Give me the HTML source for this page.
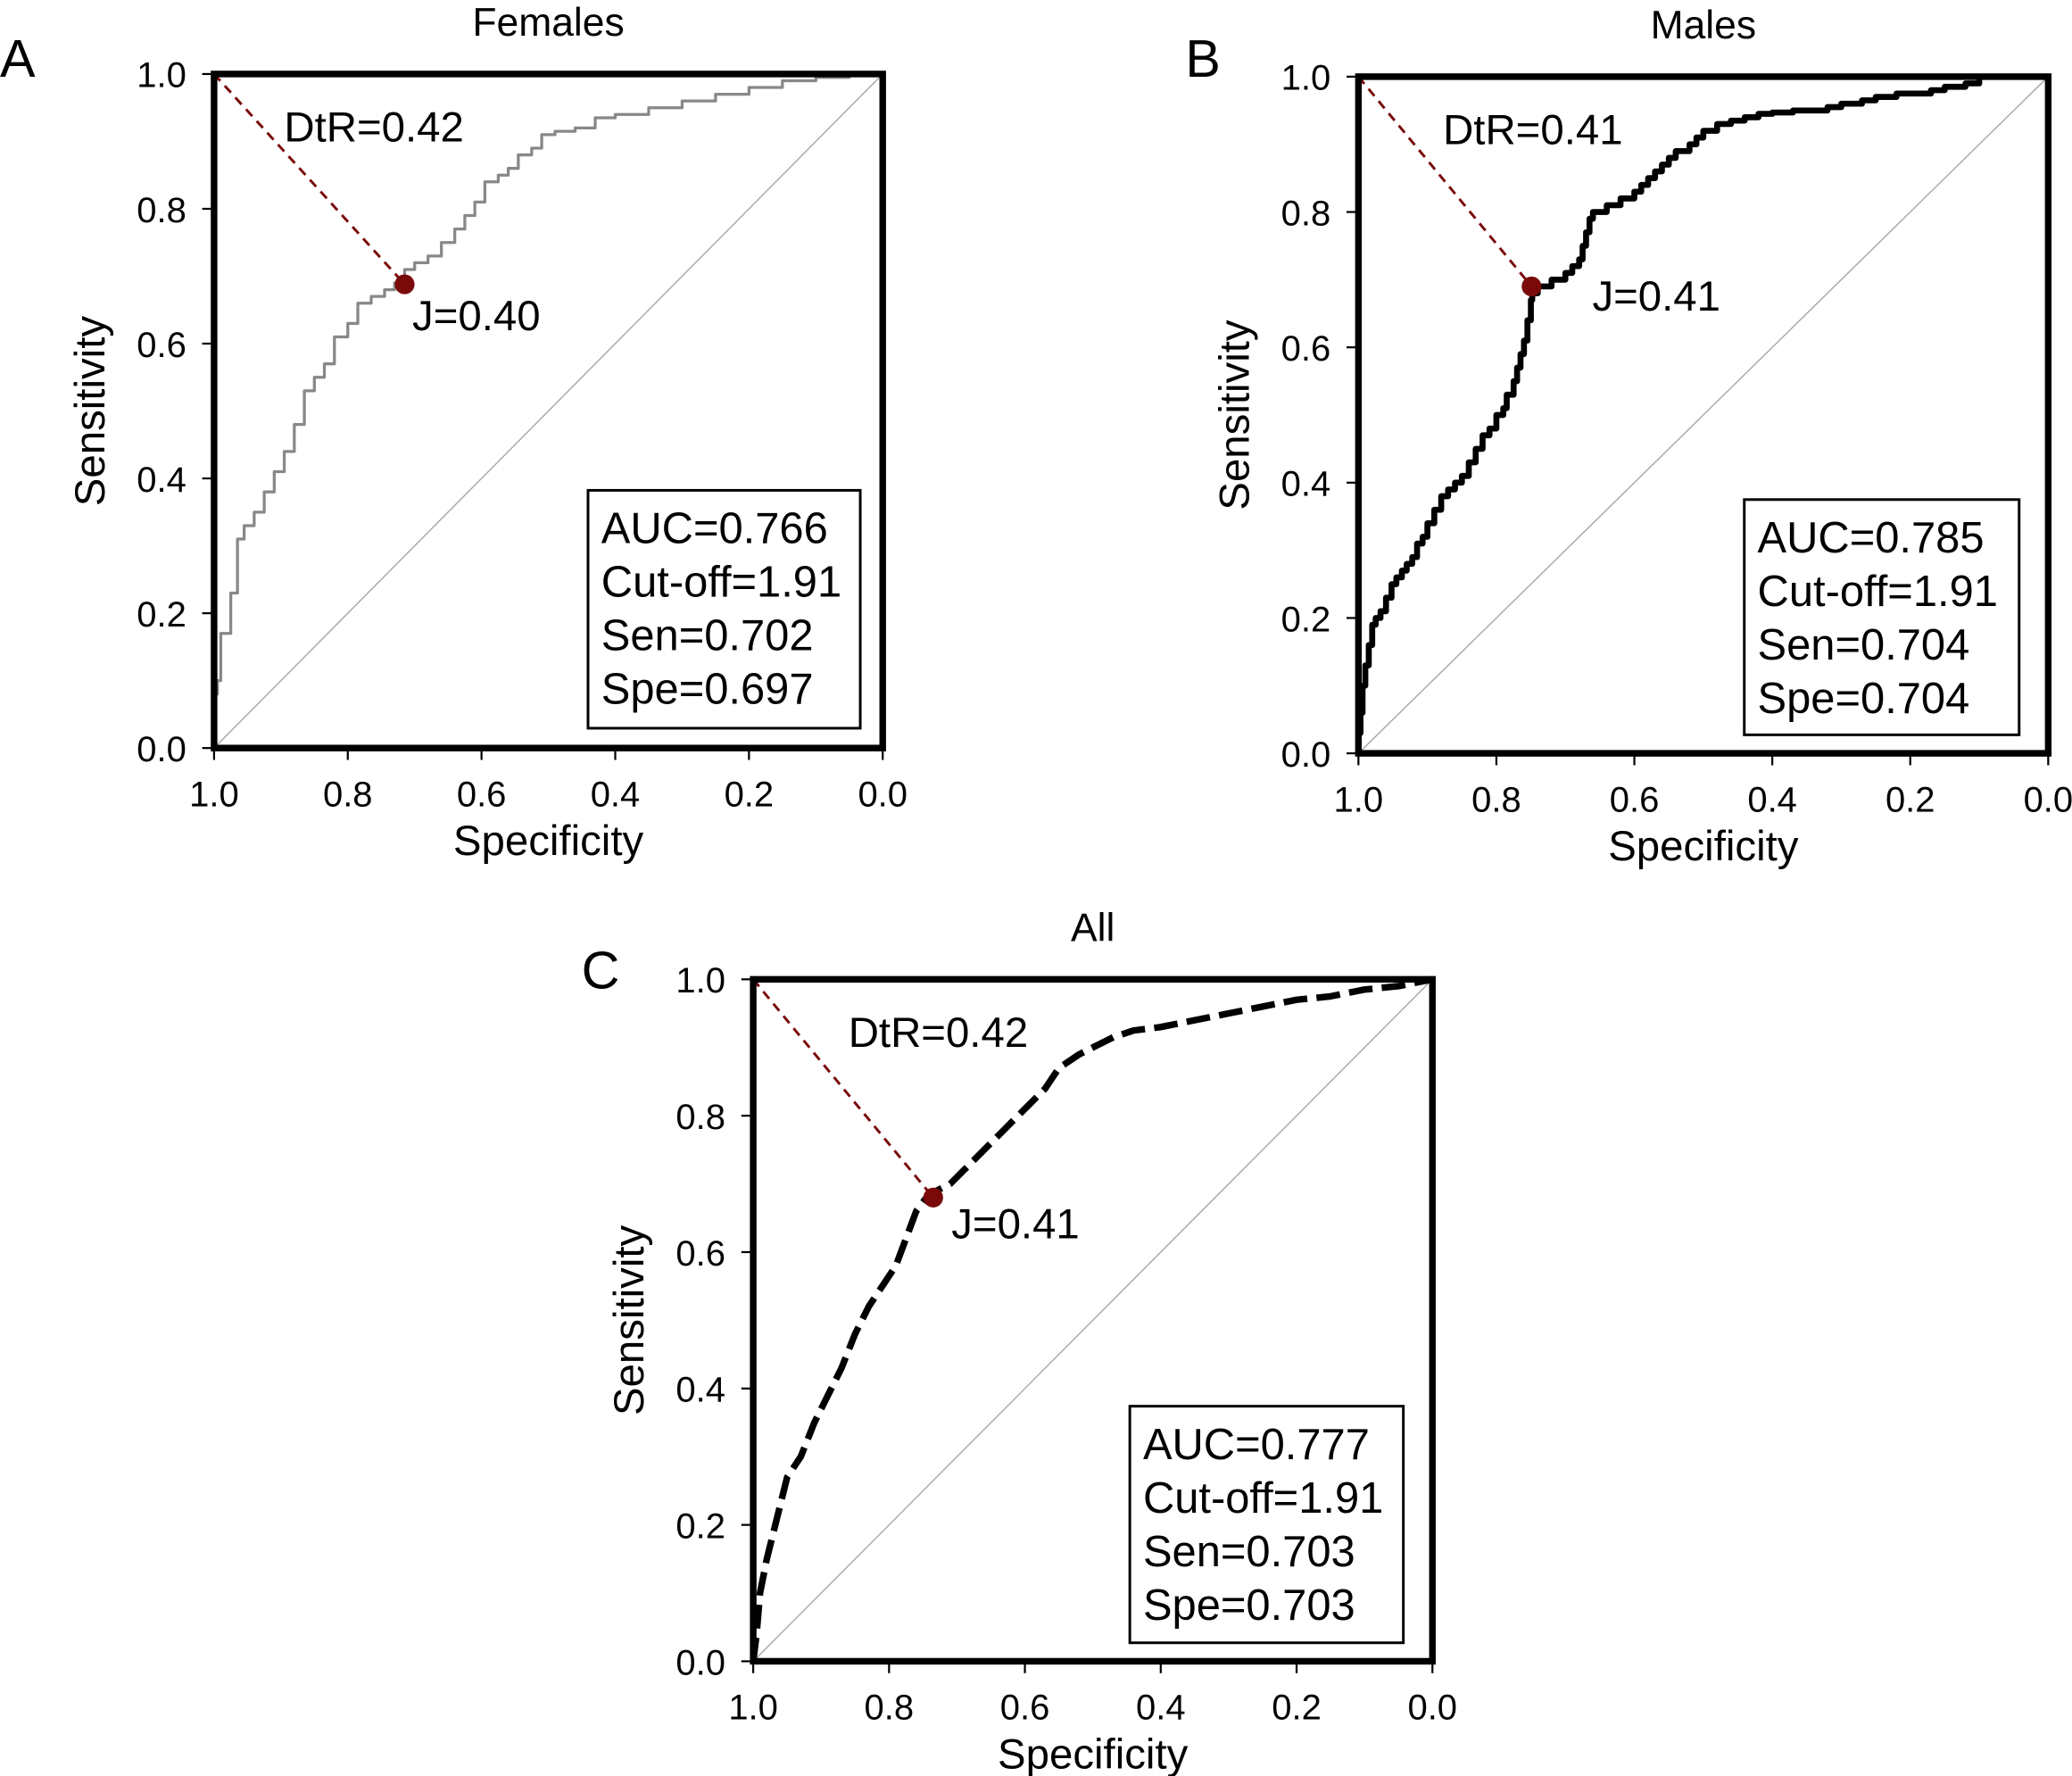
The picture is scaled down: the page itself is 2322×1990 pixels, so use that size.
<!DOCTYPE html>
<html><head><meta charset="utf-8"><style>
html,body{margin:0;padding:0;background:#fff;}
svg{display:block;font-family:"Liberation Sans",Arial,sans-serif;}
</style></head><body>
<svg id="fig" width="2322" height="1990" viewBox="0 0 1568 1343.8" xmlns="http://www.w3.org/2000/svg"></svg>
<script>
const ticks=[1.0,0.8,0.6,0.4,0.2,0.0];
const tickLabels=["1.0","0.8","0.6","0.4","0.2","0.0"];
const femSpec=[1.0,0.995,0.99,0.975,0.965,0.955,0.94,0.925,0.91,0.895,0.88,0.865,0.85,0.835,0.82,0.80,0.785,0.765,0.745,0.73,0.715,0.70,0.68,0.66,0.64,0.625,0.61,0.595,0.575,0.56,0.545,0.525,0.51,0.49,0.46,0.43,0.40,0.35,0.30,0.25,0.20,0.15,0.10,0.05,0.02,0.0];
const femSens=[0.06,0.08,0.10,0.17,0.23,0.31,0.33,0.35,0.38,0.41,0.44,0.48,0.53,0.55,0.57,0.61,0.63,0.66,0.67,0.68,0.69,0.71,0.72,0.73,0.75,0.77,0.79,0.81,0.84,0.85,0.86,0.88,0.89,0.91,0.915,0.92,0.935,0.94,0.95,0.96,0.97,0.98,0.99,0.995,1.0,1.0];
const maleSpec=[1.0,0.997,0.994,0.99,0.985,0.98,0.975,0.968,0.96,0.952,0.945,0.937,0.93,0.922,0.915,0.907,0.9,0.89,0.88,0.87,0.86,0.85,0.84,0.83,0.82,0.81,0.80,0.79,0.785,0.775,0.77,0.765,0.76,0.755,0.75,0.748,0.74,0.73,0.72,0.71,0.70,0.69,0.68,0.675,0.67,0.665,0.66,0.65,0.64,0.63,0.62,0.61,0.60,0.59,0.58,0.57,0.56,0.55,0.54,0.53,0.52,0.51,0.50,0.48,0.46,0.44,0.42,0.40,0.37,0.35,0.32,0.30,0.27,0.25,0.22,0.20,0.17,0.15,0.12,0.10,0.05,0.0];
const maleSens=[0.0,0.03,0.06,0.10,0.13,0.16,0.19,0.20,0.21,0.23,0.25,0.26,0.27,0.28,0.29,0.31,0.32,0.34,0.36,0.38,0.39,0.40,0.41,0.43,0.45,0.47,0.48,0.50,0.51,0.53,0.55,0.57,0.59,0.61,0.64,0.67,0.68,0.69,0.69,0.70,0.70,0.71,0.72,0.73,0.75,0.77,0.79,0.80,0.80,0.81,0.81,0.82,0.82,0.83,0.84,0.85,0.86,0.87,0.88,0.89,0.89,0.90,0.91,0.92,0.93,0.935,0.94,0.945,0.947,0.95,0.95,0.955,0.96,0.965,0.97,0.975,0.975,0.98,0.985,0.99,1.0,1.0];
const allSpec=[1.0,0.995,0.99,0.98,0.965,0.95,0.93,0.91,0.89,0.87,0.85,0.83,0.81,0.79,0.775,0.76,0.745,0.73,0.71,0.69,0.67,0.65,0.63,0.61,0.59,0.57,0.55,0.52,0.50,0.47,0.44,0.40,0.35,0.30,0.25,0.20,0.15,0.10,0.05,0.0];
const allSens=[0.0,0.04,0.10,0.15,0.21,0.27,0.30,0.35,0.39,0.43,0.48,0.52,0.55,0.58,0.62,0.66,0.68,0.69,0.70,0.72,0.74,0.76,0.78,0.80,0.82,0.84,0.87,0.89,0.90,0.915,0.925,0.93,0.94,0.95,0.96,0.97,0.975,0.985,0.99,1.0];
const cutSpec=[0.715,0.749,0.735];
const cutSens=[0.688,0.690,0.680];
const dtrLabels=["DtR=0.42","DtR=0.41","DtR=0.42"];
const jLabels=["J=0.40","J=0.41","J=0.41"];
const statLabels=[["AUC=0.766","Cut-off=1.91","Sen=0.702","Spe=0.697"],["AUC=0.785","Cut-off=1.91","Sen=0.704","Spe=0.704"],["AUC=0.777","Cut-off=1.91","Sen=0.703","Spe=0.703"]];
const titles=["Females","Males","All"];
const letters=["A","B","C"];

const NS="http://www.w3.org/2000/svg";
const svg=document.getElementById('fig');
function mk(tag,attrs,parent,text){const e=document.createElementNS(NS,tag);for(const k in attrs)e.setAttribute(k,attrs[k]);if(text!==undefined)e.textContent=text;(parent||svg).appendChild(e);return e;}

const panels=[
 {x0:162,x1:668,y0:56,y1:566,sp:femSpec,se:femSens,stroke:"#888",w:2.2,dash:null,box:[445,371,206,180],letter:[0,58],dtr:[215,107],j:[312,250],step:true},
 {x0:1028,x1:1550,y0:58,y1:570,sp:maleSpec,se:maleSens,stroke:"#000",w:4.5,dash:null,box:[1320,378,208,178],letter:[897,58],dtr:[1092,109],j:[1205,235],step:true},
 {x0:570,x1:1084,y0:741,y1:1257,sp:allSpec,se:allSens,stroke:"#000",w:5,dash:"18,7",box:[855,1064,207,179],letter:[440,748],dtr:[642,792],j:[720,937],step:false}
];
panels.forEach((p,i)=>{
 const g=mk('g',{});
 
 
 const X=s=>p.x0+(1-s)*(p.x1-p.x0);
 const Y=v=>p.y1-v*(p.y1-p.y0);
 const d=mk('line',{x1:X(1),y1:Y(0),x2:X(0),y2:Y(1),stroke:"#aaa","stroke-width":1},g);
 
 let path="M"+X(p.sp[0])+","+Y(p.se[0]);
 for(let k=1;k<p.sp.length;k++){
  if(p.step){path+=" L"+X(p.sp[k-1])+","+Y(p.se[k])+" L"+X(p.sp[k])+","+Y(p.se[k]);}
  else path+=" L"+X(p.sp[k])+","+Y(p.se[k]);
 }
 const c=mk('path',{d:path,fill:"none",stroke:p.stroke,"stroke-width":p.w,"stroke-linejoin":"round"},g);
 if(p.dash)c.setAttribute('stroke-dasharray',p.dash);
 
 const dl=mk('line',{x1:X(1),y1:Y(1),x2:X(cutSpec[i]),y2:Y(cutSens[i]),stroke:"#7a0a0a","stroke-width":2,"stroke-dasharray":"7,5"},g);
 
 const pt=mk('circle',{cx:X(cutSpec[i]),cy:Y(cutSens[i]),r:7.5,fill:"#7a0a0a"},g);
 
 const fr=mk('rect',{x:p.x0,y:p.y0,width:p.x1-p.x0,height:p.y1-p.y0,fill:"none",stroke:"#000","stroke-width":5},g);
 
 ticks.forEach((t,k)=>{
  mk('line',{x1:X(t),y1:p.y1,x2:X(t),y2:p.y1+9,stroke:"#000","stroke-width":1.5},g);
  const tx=mk('text',{x:X(t),y:p.y1+44,"font-size":27,"text-anchor":"middle"},g,tickLabels[k]);
  
  mk('line',{x1:p.x0-9,y1:Y(t),x2:p.x0,y2:Y(t),stroke:"#000","stroke-width":1.5},g);
  const ty=mk('text',{x:p.x0-21,y:Y(t)+10,"font-size":27,"text-anchor":"end"},g,tickLabels[k]);
  
 });
 const xt=mk('text',{x:(p.x0+p.x1)/2,y:p.y1+81,"font-size":32,"text-anchor":"middle"},g,"Specificity");
 
 const yx=p.x0-83,yy=(p.y0+p.y1)/2;
 const yt=mk('text',{x:yx,y:yy,"font-size":32,"text-anchor":"middle",transform:`rotate(-90 ${yx} ${yy})`},g,"Sensitivity");
 
 const ti=mk('text',{x:(p.x0+p.x1)/2,y:p.y0-29,"font-size":30,"text-anchor":"middle"},g,titles[i]);
 
 const le=mk('text',{x:p.letter[0],y:p.letter[1],"font-size":40},g,letters[i]);
 
 const dt=mk('text',{x:p.dtr[0],y:p.dtr[1],"font-size":32},g,dtrLabels[i]);
 
 const jl=mk('text',{x:p.j[0],y:p.j[1],"font-size":32},g,jLabels[i]);
 
 const b=p.box;
 const bx=mk('rect',{x:b[0],y:b[1],width:b[2],height:b[3],fill:"#fff",stroke:"#000","stroke-width":2},g);
 
 statLabels[i].forEach((s,k)=>{
  const st=mk('text',{x:b[0]+10,y:b[1]+40+k*40.5,"font-size":33},g,s);
  
 });
});
</script>
</body></html>
